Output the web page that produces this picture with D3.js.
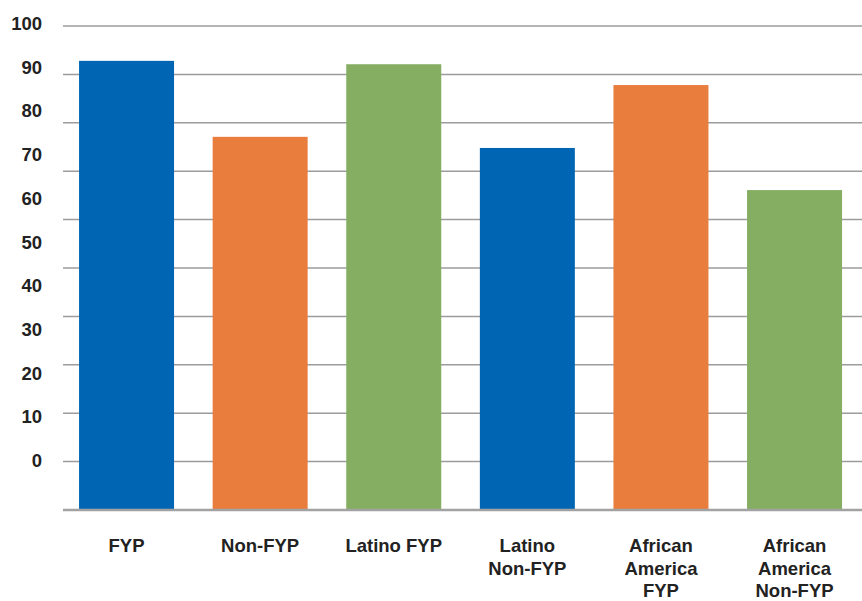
<!DOCTYPE html>
<html>
<head>
<meta charset="utf-8">
<script src="https://cdn.jsdelivr.net/npm/d3@7"></script>
<style>
  body { margin: 0; background: #fff; }
  text { font-family: "Liberation Sans", Arial, Helvetica, sans-serif; font-weight: bold; fill: #222; }
</style>
</head>
<body>
<div class="svg-container"></div>
<script>
// chart data
const categories = ['FYP', 'Non-FYP', 'Latino FYP', 'Latino Non-FYP', 'African America FYP', 'African America Non-FYP'];
const labelLines = [['FYP'], ['Non-FYP'], ['Latino FYP'], ['Latino', 'Non-FYP'], ['African', 'America', 'FYP'], ['African', 'America', 'Non-FYP']];
const values = [92.8, 77.1, 92.1, 74.8, 87.8, 66.1];
const barColours = ['#0066b3', '#e87d3e', '#85ae63', '#0066b3', '#e87d3e', '#85ae63'];
const yTicks = [0, 10, 20, 30, 40, 50, 60, 70, 80, 90, 100];

const width = 862;
const height = 601;

const svg = d3.select('.svg-container')
  .append('svg')
  .attr('width', width)
  .attr('height', height);

// scales: gridlines/bars, and the (offset) tick labels as drawn in the original
const y = d3.scaleLinear().domain([0, 100]).range([510, 26]);
const yLabel = d3.scaleLinear().domain([0, 100]).range([467, 30]);

const x = d3.scaleBand()
  .domain(categories)
  .range([64, 862])
  .paddingInner(0.289)
  .paddingOuter(0.131)
  .align(0.43);

// gridlines
svg.append('g')
  .selectAll('line')
  .data(yTicks.filter(d => d > 0))
  .enter()
  .append('line')
  .attr('x1', 63)
  .attr('x2', width)
  .attr('y1', d => y(d))
  .attr('y2', d => y(d))
  .attr('stroke', '#9c9c9c')
  .attr('stroke-width', 1.5);

// bars
svg.append('g')
  .selectAll('rect')
  .data(values)
  .enter()
  .append('rect')
  .attr('x', (d, i) => x(categories[i]))
  .attr('y', d => y(d))
  .attr('width', x.bandwidth())
  .attr('height', d => y(0) - y(d))
  .attr('fill', (d, i) => barColours[i]);

// baseline
svg.append('line')
  .attr('x1', 63)
  .attr('x2', width)
  .attr('y1', y(0))
  .attr('y2', y(0))
  .attr('stroke', '#a2a2a2')
  .attr('stroke-width', 2.5);

// y labels
svg.append('g')
  .selectAll('text')
  .data(yTicks)
  .enter()
  .append('text')
  .attr('x', 42)
  .attr('y', d => yLabel(d))
  .attr('text-anchor', 'end')
  .style('font-size', '18.5px')
  .text(d => d);

// x labels, one tspan per line
const xLabel = svg.append('g')
  .selectAll('text')
  .data(categories)
  .enter()
  .append('text')
  .attr('x', d => x(d) + x.bandwidth() / 2)
  .attr('y', 552)
  .attr('text-anchor', 'middle')
  .style('font-size', '18.5px');

xLabel.selectAll('tspan')
  .data((d, i) => labelLines[i])
  .enter()
  .append('tspan')
  .attr('x', function() { return d3.select(this.parentNode).attr('x'); })
  .attr('dy', (d, i) => i === 0 ? 0 : 22.5)
  .text(d => d);
</script>
</body>
</html>
